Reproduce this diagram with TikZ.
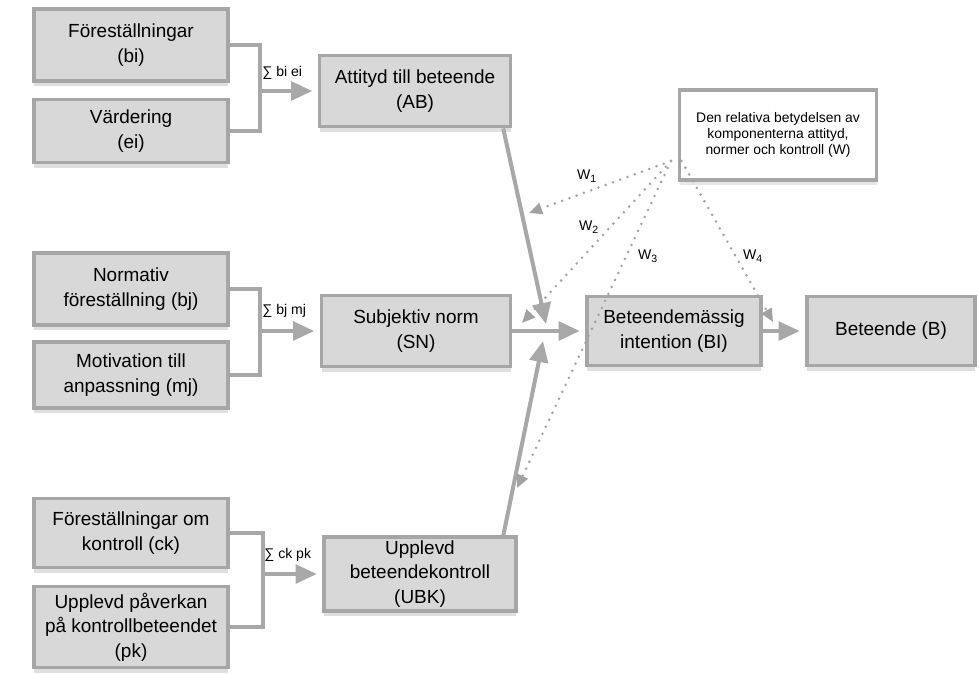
\documentclass[tikz,border=0pt]{standalone}
\usepackage{fontspec}
\setmainfont{Liberation Sans}
\usetikzlibrary{arrows.meta,shadows}
\definecolor{boxfill}{HTML}{D8D8D8}
\definecolor{boxline}{HTML}{A6A6A6}
\definecolor{linkgray}{HTML}{A8A8A8}
\definecolor{dotgray}{HTML}{A2A2A2}

\begin{document}
\begin{tikzpicture}[x=0.02cm,y=-0.02cm,
  comp/.style 2 args={draw=boxline,fill=boxfill,line width=2.2pt,align=center,inner sep=2pt,
    minimum width=#1*0.02cm,minimum height=#2*0.02cm,
    font=\fontsize{10.8}{14}\selectfont,
    drop shadow={shadow xshift=0pt,shadow yshift=-3pt,opacity=0.25}},
  wbox/.style={draw=boxline,fill=white,line width=2.2pt,align=center,inner sep=2pt,
    minimum width=197*0.02cm,minimum height=90*0.02cm,
    font=\fontsize{7.9}{8.9}\selectfont,
    drop shadow={shadow xshift=0pt,shadow yshift=-3pt,opacity=0.2}},
  brace/.style={draw=linkgray,line width=2.3pt},
  link/.style={draw=linkgray,line width=2.3pt,-{Triangle[length=12pt,width=10.5pt]}},
  wlink/.style={draw=dotgray,line width=1.6pt,line cap=round,dash pattern=on 0pt off 4.4pt,
    -{Triangle[length=7.5pt,width=6.5pt]}},
  sumlbl/.style={font=\fontsize{8}{9}\selectfont,anchor=west,inner sep=0pt},
  wlbl/.style={font=\fontsize{8}{9}\selectfont,inner sep=0pt}]
\useasboundingbox (0,0) rectangle (979,673);

\node[comp={194}{72}] (bi) at (131,45) {Föreställningar\\(bi)};
\node[comp={194}{63}] (ei) at (131,131) {Värdering\\(ei)};
\node[comp={191}{71}] (ab) at (415,91) {Attityd till beteende\\(AB)};

\node[comp={194}{72}] (bj) at (131,289) {Normativ\\föreställning (bj)};
\node[comp={194}{66}] (mj) at (131,375) {Motivation till\\anpassning (mj)};
\node[comp={189}{71}] (sn) at (416,331) {Subjektiv norm\\(SN)};

\node[comp={194}{69}] (ck) at (131,533) {Föreställningar om\\kontroll (ck)};
\node[comp={194}{81}] (pk) at (131,627) {Upplevd påverkan\\på kontrollbeteendet\\(pk)};
\node[comp={192}{71}] (ubk) at (420,574) {Upplevd\\beteendekontroll\\(UBK)};

\node[comp={174}{69}] (bint) at (674,331) {Beteendemässig\\intention (BI)};
\node[comp={168}{69}] (beh) at (891,331) {Beteende (B)};
\node[wbox] (w) at (778,135) {Den relativa betydelsen av\\komponenterna attityd,\\normer och kontroll (W)};

\coordinate (j1) at (260,91);
\coordinate (j2) at (260,331);
\coordinate (j3) at (263,574);
\draw[brace] (bi.east) -| (j1) |- (ei.east);
\draw[brace] (bj.east) -| (j2) |- (mj.east);
\draw[brace] (ck.east) -| (j3) |- (pk.east);
\draw[link,shorten >=3pt] (j1) -- (ab);
\draw[link,shorten >=3pt] (j2) -- (sn);
\draw[link,shorten >=3pt] (j3) -- (ubk);
\node[sumlbl] (s1) at (262,73) {∑ bi ei};
\node[sumlbl] (s2) at (262,311) {∑ bj mj};
\node[sumlbl] (s3) at (264,555) {∑ ck pk};

\coordinate (cvab) at (546,324);
\coordinate (cvubk) at (543,341);
\draw[link] (ab.-23) -- (cvab);
\draw[link] (ubk.25) -- (cvubk);
\draw[link,shorten >=3pt] (sn) -- (bint);
\draw[link,shorten >=3pt] (bint) -- (beh);

\coordinate (ws) at (671,161);
\coordinate (w1end) at (529,213);
\coordinate (w2end) at (522,323);
\coordinate (w3end) at (517,488);
\coordinate (w4end) at (773,322);
\draw[wlink] (ws) -- (w1end);
\draw[wlink] (ws) -- (w2end);
\draw[wlink] (ws) -- (w3end);
\draw[wlink] ([xshift=6pt]ws) -- (w4end);
\node[wlbl] (w1l) at (587,176) {W\textsubscript{1}};
\node[wlbl] (w2l) at (589,227) {W\textsubscript{2}};
\node[wlbl] (w3l) at (648,256) {W\textsubscript{3}};
\node[wlbl] (w4l) at (753,256) {W\textsubscript{4}};
\end{tikzpicture}
\end{document}
